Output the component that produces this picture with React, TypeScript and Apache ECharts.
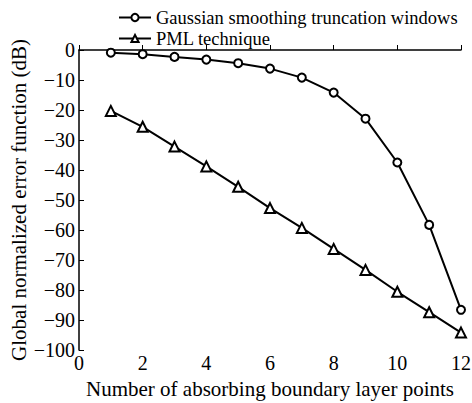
import React, { useEffect, useRef } from "react";
import * as echarts from "echarts";

const xValues = [1, 2, 3, 4, 5, 6, 7, 8, 9, 10, 11, 12];
const gaussian = [-0.9, -1.4, -2.3, -3.2, -4.4, -6.2, -9.2, -14.2, -22.9, -37.5, -58.3, -86.6];
const pml = [-20.3, -25.6, -32.2, -38.8, -45.6, -52.7, -59.3, -66.3, -73.3, -80.6, -87.4, -94.2];
const seriesNames = ["Gaussian smoothing truncation windows", "PML technique"];

const FONT = "'Liberation Serif', 'Times New Roman', serif";

export default function App() {
  const ref = useRef<HTMLDivElement>(null);
  useEffect(() => {
    const chart = echarts.init(ref.current!, null, { renderer: "svg" });
    const toPairs = (arr: number[]) => arr.map((v, i) => [xValues[i], v]);
    chart.setOption({
      animation: false,
      backgroundColor: "#fff",
      textStyle: { fontFamily: FONT, color: "#000" },
      legend: {
        orient: "vertical",
        left: 113,
        top: 3,
        itemGap: 2,
        itemWidth: 32,
        itemHeight: 9,
        textStyle: { fontFamily: FONT, fontSize: 18.5, color: "#000" },
        data: seriesNames,
      },
      grid: { left: 79, right: 11, top: 50, bottom: 53, outerBoundsMode: "none", containLabel: false },
      xAxis: {
        type: "value",
        min: 0,
        max: 12,
        interval: 2,
        name: "Number of absorbing boundary layer points",
        nameLocation: "middle",
        nameGap: 28,
        nameMoveOverlap: false,
        nameTextStyle: { fontFamily: FONT, fontSize: 21, color: "#000" },
        axisLine: { lineStyle: { color: "#000", width: 1.5 } },
        axisTick: { inside: true, length: 5, lineStyle: { color: "#000" } },
        axisLabel: { fontFamily: FONT, fontSize: 20, color: "#000", margin: 3 },
        splitLine: { show: false },
      },
      yAxis: {
        type: "value",
        min: -100,
        max: 0,
        interval: 10,
        name: "Global normalized error function (dB)",
        nameLocation: "middle",
        nameGap: 50,
        nameMoveOverlap: false,
        nameTextStyle: { fontFamily: FONT, fontSize: 21, color: "#000" },
        axisLine: { show: true, lineStyle: { color: "#000", width: 1.5 } },
        axisTick: { show: true, inside: true, length: 5, lineStyle: { color: "#000" } },
        axisLabel: {
          fontFamily: FONT,
          fontSize: 20,
          color: "#000",
          margin: 4,
          formatter: (v: number) => (v < 0 ? "\u2212" + Math.abs(v) : String(v)),
        },
        splitLine: { show: false },
      },
      series: [
        {
          name: seriesNames[0],
          type: "line",
          data: toPairs(gaussian),
          symbol: "circle",
          symbolSize: 8,
          lineStyle: { color: "#000", width: 2 },
          itemStyle: { color: "#fff", borderColor: "#000", borderWidth: 2 },
        },
        {
          name: seriesNames[1],
          type: "line",
          data: toPairs(pml),
          symbol: "triangle",
          symbolSize: 10,
          lineStyle: { color: "#000", width: 2 },
          itemStyle: { color: "#fff", borderColor: "#000", borderWidth: 2 },
        },
      ],
    });
    return () => chart.dispose();
  }, []);
  return <div ref={ref} style={{ width: 472, height: 403, position: "absolute", left: 0, top: 0 }} />;
}
